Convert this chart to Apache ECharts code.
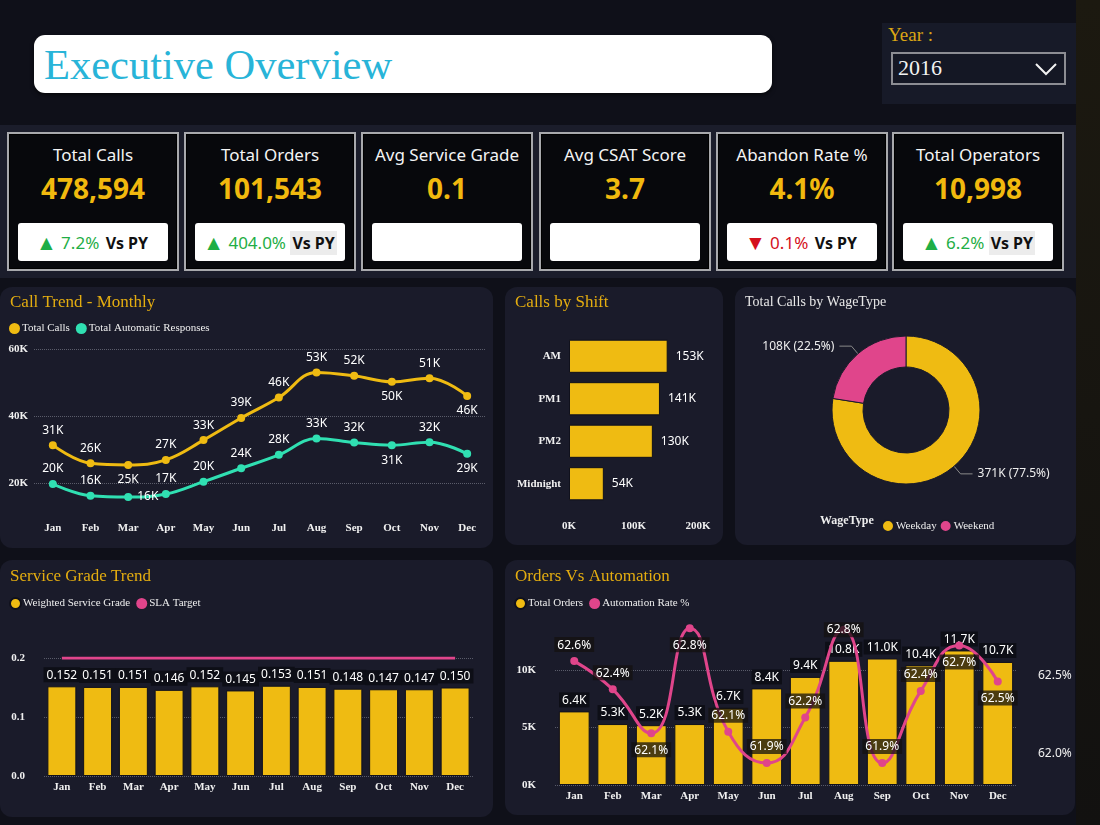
<!DOCTYPE html>
<html>
<head>
<meta charset="utf-8">
<title>Executive Overview</title>
<script src="https://cdn.jsdelivr.net/npm/echarts/dist/echarts.min.js"></script>
<style>
  html, body { margin: 0; padding: 0; }
  body { width: 1100px; height: 825px; background: #0f1019; position: relative; overflow: hidden; font-family: 'Noto Sans', 'Open Sans', sans-serif; }
  .abs { position: absolute; }
  #rightStrip { left: 1076px; top: 0; width: 24px; height: 825px; background: linear-gradient(#1c1910, #121110); }
  #titleBox { left: 34px; top: 35px; width: 738px; height: 58px; background: #fff; border-radius: 11px; box-shadow: 0 2px 4px rgba(0,0,0,0.6); }
  #titleBox span { position: absolute; left: 10px; top: 5px; font-family: 'Liberation Serif', serif; font-size: 42.5px; color: #28b4d8; }
  #yearBox { left: 882px; top: 23px; width: 194px; height: 81px; background: #171a28; }
  #yearLbl { left: 6px; top: 1px; font-family: 'Liberation Serif', serif; font-size: 19px; color: #dba614; }
  #yearSel { left: 9px; top: 29px; width: 171px; height: 29px; border: 2px solid #8c8d93; background: #141724; }
  #yearSel span { position: absolute; left: 5px; top: 1px; font-family: 'Liberation Serif', serif; font-size: 22px; color: #f2f2f2; }
  #yearSel svg { position: absolute; right: 6px; top: 7px; }
  #kpiBand { left: 0; top: 125px; width: 1076px; height: 153px; background: #1b1d2b; }
  .card { top: 132px; width: 168px; height: 135px; background: #07080c; border: 2px solid #a8a9ad; box-shadow: inset 0 0 0 1px #000; }
  .card .t { position: absolute; left: 0; right: 0; top: 9px; text-align: center; color: #f4f4f4; font-size: 17px; }
  .card .v { position: absolute; left: 0; right: 0; top: 35px; text-align: center; color: #f1b90e; font-size: 28px; font-weight: bold; }
  .card .b { position: absolute; left: 9px; right: 9px; top: 89px; height: 38px; background: #fff; border-radius: 3px; text-align: center; line-height: 38px; font-size: 17px; }
  .card .up { color: #1fae46; }
  .card .down { color: #d4101c; }
  .card .arr { font-size: 21px; vertical-align: -1px; }
  .card .vs { color: #111; font-weight: bold; font-size: 16px; padding: 1px 2px; }
  .card .vs.hl { background: #ececec; }
  .panel { background: #1a1b2a; border-radius: 12px; }
</style>
</head>
<body>
<div id="rightStrip" class="abs"></div>
<div id="titleBox" class="abs"><span>Executive Overview</span></div>
<div id="yearBox" class="abs">
  <div id="yearLbl" class="abs">Year :</div>
  <div id="yearSel" class="abs"><span>2016</span>
    <svg width="24" height="16"><polyline points="2,3 12,13 22,3" fill="none" stroke="#f2f2f2" stroke-width="2"/></svg>
  </div>
</div>
<div id="kpiBand" class="abs"></div>
<div id="cards"></div>
<div id="trend" class="abs panel" style="left:0;top:287px;width:493px;height:261px;"></div>
<div id="shift" class="abs panel" style="left:505px;top:287px;width:218px;height:258px;"></div>
<div id="wage" class="abs panel" style="left:735px;top:287px;width:341px;height:258px;"></div>
<div id="grade" class="abs panel" style="left:0;top:560px;width:493px;height:257px;"></div>
<div id="orders" class="abs panel" style="left:505px;top:560px;width:570px;height:255px;"></div>
<script>
// ---- data ----
var kpiTitles = ['Total Calls', 'Total Orders', 'Avg Service Grade', 'Avg CSAT Score', 'Abandon Rate %', 'Total Operators'];
var kpiValues = ['478,594', '101,543', '0.1', '3.7', '4.1%', '10,998'];
var kpiChange = ['7.2%', '404.0%', '', '', '0.1%', '6.2%'];
var kpiDir = ['up', 'up', '', '', 'down', 'up'];

var months = ['Jan', 'Feb', 'Mar', 'Apr', 'May', 'Jun', 'Jul', 'Aug', 'Sep', 'Oct', 'Nov', 'Dec'];
var totalCalls = [31300, 25900, 25400, 26900, 32800, 39400, 45500, 53000, 52000, 50200, 51300, 46000];
var autoResponses = [19700, 16200, 15800, 16700, 20400, 24400, 28400, 33300, 32100, 31300, 32200, 28700];

var shifts = ['AM', 'PM1', 'PM2', 'Midnight'];
var shiftCalls = [153000, 141000, 130000, 54000];

var wageTypes = ['Weekday', 'Weekend'];
var wageCalls = [370900, 107700];

var serviceGrade = [0.152, 0.151, 0.151, 0.146, 0.152, 0.145, 0.153, 0.151, 0.148, 0.147, 0.147, 0.150];
var slaTarget = [0.2, 0.2, 0.2, 0.2, 0.2, 0.2, 0.2, 0.2, 0.2, 0.2, 0.2, 0.2];

var orders = [6400, 5300, 5200, 5300, 6700, 8400, 9400, 10800, 11000, 10400, 11700, 10700];
var autoRate = [62.59, 62.41, 62.13, 62.80, 62.14, 61.94, 62.23, 62.79, 61.94, 62.40, 62.69, 62.46];

// label placement (style, not data)
var callsLblPos = ['top', 'top', 'bottom', 'top', 'top', 'top', 'top', 'top', 'top', 'bottom', 'top', 'bottom'];
var autoLblPos = ['top', 'top', 'right', 'top', 'top', 'top', 'top', 'top', 'top', 'bottom', 'top', 'bottom'];
var rateLblPos = ['top', 'top', 'bottom', 'bottom', 'top', 'top', 'top', 'inside', 'top', 'top', 'bottom', 'bottom'];

// ---- KPI cards ----
var cardX = [7, 184, 361, 539, 716, 892];
var cardsHtml = '';
for (var i = 0; i < kpiTitles.length; i++) {
    var box = '';
    if (kpiChange[i]) {
        var arrow = kpiDir[i] == 'up' ? '&#9650;' : '&#9660;';
        box = '<span class="' + kpiDir[i] + '"><span class="arr">' + arrow + '</span> ' + kpiChange[i] + '</span> ' +
              '<span class="vs' + (i == 1 || i == 5 ? ' hl' : '') + '">Vs PY</span>';
    }
    cardsHtml += '<div class="abs card" style="left:' + cardX[i] + 'px">' +
        '<div class="t">' + kpiTitles[i] + '</div>' +
        '<div class="v">' + kpiValues[i] + '</div>' +
        '<div class="b">' + box + '</div></div>';
}
document.getElementById('cards').innerHTML = cardsHtml;

// ---- shared styles ----
var serif = 'Liberation Serif, DejaVu Serif, serif';
var sans = 'Noto Sans, Open Sans, sans-serif';
var gold = '#efbb12';
var pink = '#e0458b';
var teal = '#30e0b2';
var titleStyle = { color: '#e4ad10', fontFamily: serif, fontSize: 17, fontWeight: 'normal' };
var axisLbl = { color: '#f0f0f0', fontFamily: serif, fontSize: 11, fontWeight: 'bold' };
var legendText = { color: '#eeeeee', fontFamily: serif, fontSize: 11, padding: [0, 0, 0, -3] };
var dataLbl = { show: true, color: '#ffffff', fontFamily: sans, fontSize: 12 };
var gridLine = '#5a5c6a';

function kFmt(v) { return Math.round(v / 1000) + 'K'; }

// ---- Call Trend - Monthly ----
var trend = echarts.init(document.getElementById('trend'));
trend.setOption({
    title: { text: 'Call Trend - Monthly', left: 5, top: 2, textStyle: titleStyle },
    legend: { left: 4, top: 31, icon: 'circle', itemWidth: 11, itemHeight: 11, itemGap: 6, textStyle: legendText },
    grid: { left: 34, top: 62, width: 452, height: 167.5 },
    xAxis: {
        type: 'category', data: months,
        axisLine: { show: false }, axisTick: { show: false },
        axisLabel: Object.assign({}, axisLbl, { margin: 6 })
    },
    yAxis: {
        type: 'value', min: 10000, max: 60000, interval: 10000,
        axisLabel: Object.assign({}, axisLbl, { margin: 6, formatter: function (v) { return v % 20000 === 0 ? v / 1000 + 'K' : ''; } }),
        splitLine: { lineStyle: { type: 'dotted', color: ['transparent', gridLine] } }
    },
    series: [{
        name: 'Total Calls', type: 'line', smooth: 0.4, symbol: 'circle', symbolSize: 8,
        color: gold, lineStyle: { width: 3 },
        label: Object.assign({}, dataLbl, { formatter: function (p) { return kFmt(p.value); } }),
        data: totalCalls.map(function (v, i) { return { value: v, label: { position: callsLblPos[i] } }; })
    }, {
        name: 'Total Automatic Responses', type: 'line', smooth: 0.4, symbol: 'circle', symbolSize: 8,
        color: teal, lineStyle: { width: 3 },
        label: Object.assign({}, dataLbl, { formatter: function (p) { return kFmt(p.value); } }),
        data: autoResponses.map(function (v, i) { return { value: v, label: { position: autoLblPos[i] } }; })
    }]
});

// ---- Calls by Shift ----
var shift = echarts.init(document.getElementById('shift'));
shift.setOption({
    title: { text: 'Calls by Shift', left: 5, top: 2, textStyle: titleStyle },
    grid: { left: 64, top: 48, width: 129, height: 170 },
    xAxis: {
        type: 'value', min: 0, max: 200000, interval: 100000,
        splitLine: { show: false },
        axisLabel: Object.assign({}, axisLbl, { margin: 16, formatter: function (v) { return v / 1000 + 'K'; } })
    },
    yAxis: {
        type: 'category', data: shifts, inverse: true,
        axisLine: { show: false }, axisTick: { show: false },
        axisLabel: Object.assign({}, axisLbl, { margin: 8 })
    },
    series: [{
        type: 'bar', data: shiftCalls, barCategoryGap: '22%',
        itemStyle: { color: gold, borderColor: '#10111c', borderWidth: 1 },
        label: Object.assign({}, dataLbl, { position: 'right', distance: 8, formatter: function (p) { return kFmt(p.value); } })
    }]
});

// ---- Total Calls by WageType ----
var wage = echarts.init(document.getElementById('wage'));
wage.setOption({
    title: { text: 'Total Calls by WageType', left: 5, top: 3, textStyle: { color: '#e8e8e8', fontFamily: serif, fontSize: 14, fontWeight: 'normal' } },
    color: [gold, pink],
    legend: { left: 141, top: 227, icon: 'circle', itemWidth: 12, itemHeight: 12, itemGap: 2, textStyle: legendText },
    graphic: [{ type: 'text', left: 85, top: 228, style: { text: 'WageType', fill: '#eeeeee', font: 'bold 12px Liberation Serif' } }],
    series: [{
        type: 'pie', center: [171, 123], radius: [43, 74],
        itemStyle: { borderColor: '#1a1b2a', borderWidth: 1 },
        label: { color: '#eeeeee', fontFamily: sans, fontSize: 12, formatter: function (p) { return kFmt(p.value) + ' (' + p.percent.toFixed(1) + '%)'; } },
        labelLine: { length: 10, length2: 12, lineStyle: { color: '#8a8a8a' } },
        data: wageTypes.map(function (n, i) { return { name: n, value: wageCalls[i] }; })
    }]
});

// ---- Service Grade Trend ----
var grade = echarts.init(document.getElementById('grade'));
grade.setOption({
    title: { text: 'Service Grade Trend', left: 5, top: 3, textStyle: titleStyle },
    legend: { left: 4, top: 32, icon: 'circle', itemWidth: 11, itemHeight: 11, itemGap: 6, textStyle: legendText },
    grid: { left: 44, top: 98, width: 429, height: 118 },
    xAxis: {
        type: 'category', data: months,
        axisLine: { show: false }, axisTick: { show: false },
        axisLabel: Object.assign({}, axisLbl, { margin: 6 })
    },
    yAxis: {
        type: 'value', min: 0, max: 0.2, interval: 0.1,
        axisLabel: Object.assign({}, axisLbl, { margin: 19, formatter: function (v) { return v.toFixed(1); } }),
        splitLine: { lineStyle: { type: 'dotted', color: gridLine } }
    },
    series: [{
        name: 'Weighted Service Grade', type: 'bar', data: serviceGrade, barCategoryGap: '19%',
        color: gold, itemStyle: { borderColor: '#10111c', borderWidth: 1 },
        label: Object.assign({}, dataLbl, {
            position: 'top', distance: 4, backgroundColor: '#0d0e16', padding: [2, 3, 1, 3],
            formatter: function (p) { return p.value.toFixed(3); }
        })
    }, {
        name: 'SLA Target', type: 'line', data: slaTarget, symbol: 'none', showSymbol: false,
        color: pink, lineStyle: { width: 3 }, z: 5
    }]
});

// ---- Orders Vs Automation ----
var ord = echarts.init(document.getElementById('orders'));
ord.setOption({
    title: { text: 'Orders Vs Automation', left: 5, top: 3, textStyle: titleStyle },
    legend: { left: 4, top: 32, icon: 'circle', itemWidth: 11, itemHeight: 11, itemGap: 6, textStyle: legendText },
    grid: { left: 50, top: 52.5, width: 462, height: 172.5 },
    xAxis: {
        type: 'category', data: months,
        axisLine: { show: false }, axisTick: { show: false },
        axisLabel: Object.assign({}, axisLbl, { margin: 6 })
    },
    yAxis: [{
        type: 'value', min: 0, max: 15000, interval: 5000,
        axisLabel: Object.assign({}, axisLbl, { margin: 19, formatter: function (v) { return v < 15000 ? v / 1000 + 'K' : ''; } }),
        splitLine: { lineStyle: { type: 'dotted', color: [gridLine, gridLine, gridLine, 'transparent'] } }
    }, {
        type: 'value', min: 61.8, max: 62.9, interval: 0.1,
        splitLine: { show: false },
        axisLabel: {
            color: '#f0f0f0', fontFamily: sans, fontSize: 12, margin: 21,
            formatter: function (v) {
                if (Math.abs(v - 62) < 0.001 || Math.abs(v - 62.5) < 0.001) return v.toFixed(1) + '%';
                return '';
            }
        }
    }],
    series: [{
        name: 'Total Orders', type: 'bar', data: orders, barCategoryGap: '20%',
        color: gold, itemStyle: { borderColor: '#10111c', borderWidth: 1 },
        label: Object.assign({}, dataLbl, {
            position: 'top', distance: 4, backgroundColor: '#0d0e16', padding: [2, 3, 1, 3],
            formatter: function (p) { return (p.value / 1000).toFixed(1) + 'K'; }
        })
    }, {
        name: 'Automation Rate %', type: 'line', yAxisIndex: 1, smooth: 0.5,
        symbol: 'circle', symbolSize: 8, color: pink, lineStyle: { width: 3 }, z: 5,
        label: Object.assign({}, dataLbl, {
            backgroundColor: 'rgba(20,18,16,0.75)', padding: [2, 3, 1, 3],
            formatter: function (p) { return p.value.toFixed(1) + '%'; }
        }),
        data: autoRate.map(function (v, i) { return { value: v, label: { position: rateLblPos[i] } }; })
    }]
});
</script>
</body>
</html>
